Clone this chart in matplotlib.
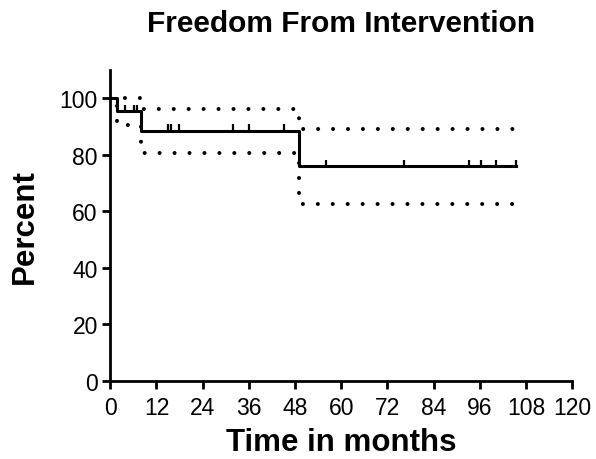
import numpy as np
import matplotlib
matplotlib.use("Agg")
import matplotlib.pyplot as plt

plt.rcParams['font.family'] = ['Liberation Sans', 'DejaVu Sans']

# Kaplan-Meier estimate (step changes) and 95% CI bands
event_times = [0, 1.8, 8.0, 49.1, 105.5]
survival = [100, 95.4, 88.5, 76.0, 76.0]
upper_ci = [100, 100, 96.1, 89.1, 89.1]
lower_ci = [100, 90.5, 80.7, 62.4, 62.4]

# censored observations (months)
censored = [3.9, 6.1, 6.9, 15.1, 15.8, 17.9, 32.0, 36.1, 45.1,
            56.1, 76.2, 93.3, 96.3, 100.3, 105.5]

x_ticks = [0, 12, 24, 36, 48, 60, 72, 84, 96, 108, 120]
y_ticks = [0, 20, 40, 60, 80, 100]

fig = plt.figure(figsize=(5.96, 4.6), dpi=100)
ax = fig.add_axes([0.185, 0.170, 0.775, 0.676])

ax.step(event_times, survival, where='post', color='black', lw=2.2)
dots = (0, (0.01, 3.7))
for band in (upper_ci, lower_ci):
    ax.step(event_times, band, where='post', color='black', lw=2.9,
            linestyle=dots, dash_capstyle='round')

idx = np.searchsorted(event_times, censored, side='right') - 1
levels = np.array(survival)[idx]
ax.vlines(censored, levels, levels + 2.2, color='black', lw=1.6)

ax.set_xlim(0, 120)
ax.set_ylim(0, 110)
ax.set_xticks(x_ticks)
ax.set_yticks(y_ticks)
for side in ('top', 'right'):
    ax.spines[side].set_visible(False)
for side in ('left', 'bottom'):
    ax.spines[side].set_linewidth(2.0)
ax.tick_params(direction='out', length=6, width=2.0, labelsize=16.5, pad=3)
ax.tick_params(axis='x', pad=5)

ax.set_title("Freedom From Intervention", fontsize=21.5, fontweight='bold', pad=28)
ax.set_xlabel("Time in months", fontsize=22.5, fontweight='bold', labelpad=6)
ax.set_ylabel("Percent", fontsize=22.5, fontweight='bold', labelpad=14)

fig.savefig("out.png", dpi=100)
